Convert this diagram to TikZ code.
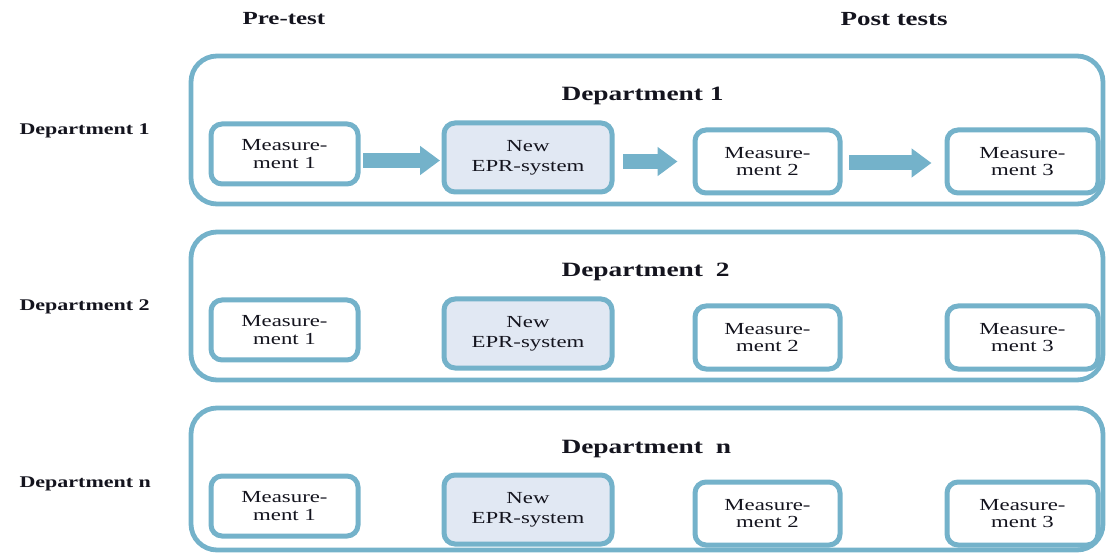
\documentclass[tikz,border=0pt]{standalone}
\usepackage{fontspec}
\setmainfont{Liberation Serif}[FakeStretch=1.35]
\usetikzlibrary{arrows.meta}
\definecolor{frameblue}{RGB}{116,178,202}
\definecolor{eprfill}{RGB}{225,232,243}
\definecolor{ink}{RGB}{20,20,30}

\begin{document}
\begin{tikzpicture}[x=1pt,y=-1pt,
  dept/.style={draw=frameblue,line width=4.8pt,rounded corners=26pt},
  stage/.style={draw=frameblue,line width=5pt,rounded corners=11pt,fill=white,
    align=center,inner sep=0pt,text=ink,font=\fontsize{16.9}{17.5}\selectfont},
  epr/.style={stage,fill=eprfill,font=\fontsize{16.9}{20}\selectfont},
  flow/.style={draw=frameblue,line width=15pt,-{Triangle[length=20pt,width=28pt]}},
  title/.style={font=\bfseries\fontsize{20.3}{24}\selectfont,text=ink,anchor=base west},
  side/.style={font=\bfseries\fontsize{16.3}{20}\selectfont,text=ink,anchor=base west}]
\useasboundingbox (0,0) rectangle (1106,553);

% column headers
\node[title,font=\bfseries\fontsize{18.5}{22}\selectfont] (pre) at (239,25) {Pre-test};
\node[title,font=\bfseries\fontsize{20}{24}\selectfont] (post) at (837,26) {Post tests};

% one framed row per department
\foreach \dy/\bot/\tag/\gap in {0/204/1/0pt, 176/380/2/6pt, 352/550/n/6pt}{
  \draw[dept] (191,56+\dy) rectangle (1103,\bot);
  \node[title] (head-\tag) at (558,101+\dy) {Department\hspace{\gap} \tag};
  \node[side] (side-\tag) at (16,135+\dy) {Department \tag};
  \node[stage,minimum width=147pt,minimum height=60pt] (m1-\tag) at (284.5,154+\dy) {Measure-\\ment 1};
  \node[epr,minimum width=168pt,minimum height=69pt] (epr-\tag) at (528,157.5+\dy) {New\\EPR-system};
  \node[stage,minimum width=145pt,minimum height=63pt] (m2-\tag) at (767.5,161.5+\dy) {Measure-\\ment 2};
  \node[stage,minimum width=151pt,minimum height=63pt] (m3-\tag) at (1022.5,161.5+\dy) {Measure-\\ment 3};
}

% process flow of the first department
\draw[flow,shorten <=2.5pt,shorten >=1.5pt] (m1-1.east |- 0,160.5) -- (epr-1.west |- 0,160.5);
\draw[flow,shorten <=8.5pt,shorten >=15pt] (epr-1.east |- 0,161.5) -- (m2-1.west |- 0,161.5);
\draw[flow,shorten <=6.5pt,shorten >=13pt] (m2-1.east |- 0,163) -- (m3-1.west |- 0,163);
\end{tikzpicture}
\end{document}
